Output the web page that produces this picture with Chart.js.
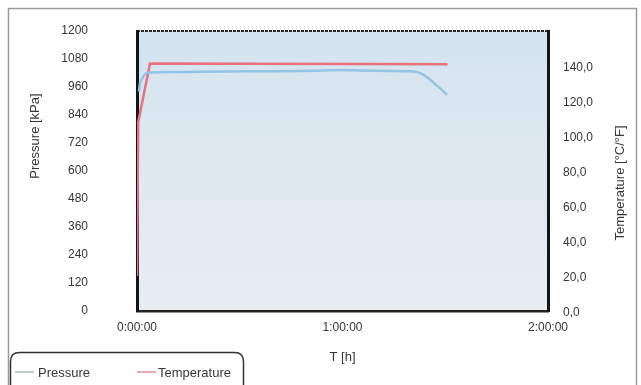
<!DOCTYPE html>
<html><head><meta charset="utf-8">
<script src="https://cdn.jsdelivr.net/npm/chart.js@4"></script>
<style>html,body{margin:0;padding:0;background:#fff}canvas{display:block}</style>
</head><body>
<canvas id="c" width="641" height="385"></canvas>
<script>
// ---- data (time in seconds) ----
const pressureTime = [35, 53, 110, 170, 228, 600, 1104, 1980, 2856, 3300, 3556, 3907, 4433, 4783, 4958, 5098, 5221, 5326, 5431];
const pressureKPa  = [940, 977, 1005, 1020, 1022, 1024, 1025, 1027, 1029, 1031, 1033, 1031, 1029, 1027, 1020, 999, 973, 951, 926];
const tempTime     = [0, 22, 228, 2000, 4000, 5440];
const temperatureC = [20, 108, 141.4, 141.3, 141.1, 141];
const xTickValues  = [0, 3600, 7200];
const pressureTicks = [0, 120, 240, 360, 480, 600, 720, 840, 960, 1080, 1200];
const tempTicks     = [0, 20, 40, 60, 80, 100, 120, 140];
const seriesNames = ['Pressure', 'Temperature'];
const axisTitles = {x: 'T [h]', y: 'Pressure [kPa]', y1: 'Temperature [°C/°F]'};

const FONT = "'Liberation Sans', Arial, sans-serif";
const TXT = '#363636';

function fmtTime(v) {
  const h = Math.floor(v / 3600), m = Math.floor((v % 3600) / 60), s = Math.floor(v % 60);
  return h + ':' + String(m).padStart(2, '0') + ':' + String(s).padStart(2, '0');
}

const bgPlugin = {
  id: 'bg',
  beforeDraw(chart) {
    const {ctx, chartArea: a} = chart;
    ctx.save();
    ctx.fillStyle = '#ffffff';
    ctx.fillRect(0, 0, chart.width, chart.height);
    ctx.strokeStyle = '#9a9a9a';
    ctx.lineWidth = 1.5;
    ctx.strokeRect(8.5, 8.5, 628, 400);
    const g = ctx.createLinearGradient(0, a.top, 0, a.bottom);
    g.addColorStop(0, '#d3e4ee');
    g.addColorStop(0.5, '#dfe9f1');
    g.addColorStop(1, '#e7edf3');
    ctx.fillStyle = g;
    ctx.fillRect(a.left, a.top, a.right - a.left, a.bottom - a.top);
    ctx.strokeStyle = '#2a2a2a';
    ctx.lineWidth = 2;
    ctx.setLineDash([3, 1]);
    ctx.beginPath();
    ctx.moveTo(a.left, a.top);
    ctx.lineTo(a.right, a.top);
    ctx.stroke();
    ctx.restore();
  }
};

const extrasPlugin = {
  id: 'extras',
  afterDraw(chart) {
    const {ctx} = chart;
    ctx.save();
    ctx.fillStyle = TXT;
    ctx.font = '13px ' + FONT;
    ctx.textAlign = 'center';
    ctx.textBaseline = 'middle';
    ctx.save();
    ctx.translate(35, 136);
    ctx.rotate(-Math.PI / 2);
    ctx.fillText(axisTitles.y, 0, 0);
    ctx.restore();
    ctx.save();
    ctx.translate(620, 183);
    ctx.rotate(-Math.PI / 2);
    ctx.fillText(axisTitles.y1, 0, 0);
    ctx.restore();

    const bx = 10.5, by = 352.5, bw = 233, bh = 45, r = 9;
    ctx.fillStyle = '#ffffff';
    ctx.strokeStyle = '#333';
    ctx.lineWidth = 1.5;
    ctx.beginPath();
    ctx.moveTo(bx + r, by);
    ctx.lineTo(bx + bw - r, by);
    ctx.quadraticCurveTo(bx + bw, by, bx + bw, by + r);
    ctx.lineTo(bx + bw, by + bh - r);
    ctx.quadraticCurveTo(bx + bw, by + bh, bx + bw - r, by + bh);
    ctx.lineTo(bx + r, by + bh);
    ctx.quadraticCurveTo(bx, by + bh, bx, by + bh - r);
    ctx.lineTo(bx, by + r);
    ctx.quadraticCurveTo(bx, by, bx + r, by);
    ctx.closePath();
    ctx.fill();
    ctx.stroke();
    const items = [{x: 15, tx: 38}, {x: 137, tx: 158}];
    const legendColors = ['#a9bcb4', '#e88a96'];
    chart.data.datasets.forEach((ds, i) => {
      const it = items[i];
      ctx.strokeStyle = legendColors[i];
      ctx.lineWidth = 1.5;
      ctx.beginPath();
      ctx.moveTo(it.x, 372);
      ctx.lineTo(it.x + 19, 372);
      ctx.stroke();
      ctx.fillStyle = TXT;
      ctx.font = '13px ' + FONT;
      ctx.textAlign = 'left';
      ctx.textBaseline = 'middle';
      ctx.fillText(ds.label, it.tx, 373);
    });
    ctx.restore();
  }
};

function fixVertical(width) {
  return s => { s.width = width; s.paddingTop = 0; s.paddingBottom = 0; };
}

new Chart(document.getElementById('c'), {
  type: 'line',
  data: {
    datasets: [
      {
        label: seriesNames[0],
        data: pressureTime.map((t, i) => ({x: t, y: pressureKPa[i]})),
        yAxisID: 'y',
        borderColor: '#95c3e6',
        borderWidth: 2.5,
        pointRadius: 0,
        tension: 0.2,
        fill: false
      },
      {
        label: seriesNames[1],
        data: tempTime.map((t, i) => ({x: t, y: temperatureC[i]})),
        yAxisID: 'y1',
        borderColor: '#e8707f',
        borderWidth: 2.5,
        pointRadius: 0,
        tension: 0,
        fill: false
      }
    ]
  },
  options: {
    responsive: false,
    animation: false,
    events: [],
    layout: {padding: {top: 31, left: 8, right: 5, bottom: 20}},
    plugins: {legend: {display: false}, tooltip: {enabled: false}},
    scales: {
      x: {
        type: 'linear', min: 0, max: 7200,
        afterBuildTicks: s => { s.ticks = xTickValues.map(v => ({value: v})); },
        afterFit: s => { s.height = 54; s.paddingLeft = 0; s.paddingRight = 0; },
        ticks: {callback: v => fmtTime(v), padding: 9, maxRotation: 0, autoSkip: false, color: TXT, font: {family: FONT, size: 12}},
        grid: {color: 'transparent', drawTicks: false},
        border: {display: true, color: '#222', width: 2.5, dash: [3, 1]},
        title: {display: true, text: axisTitles.x, color: TXT, font: {family: FONT, size: 13}, padding: {top: 0, bottom: 0}}
      },
      y: {
        type: 'linear', position: 'left', min: 0, max: 1200,
        afterBuildTicks: s => { s.ticks = pressureTicks.map(v => ({value: v})); },
        afterFit: fixVertical(129),
        ticks: {padding: 49, color: TXT, font: {family: FONT, size: 12}, callback: v => String(v)},
        grid: {color: 'transparent', drawTicks: false},
        border: {display: true, color: '#151515', width: 3}
      },
      y1: {
        type: 'linear', position: 'right', min: 0, max: 160,
        afterBuildTicks: s => { s.ticks = tempTicks.map(v => ({value: v})); },
        afterFit: fixVertical(88),
        ticks: {padding: 15, labelOffset: 2, color: TXT, font: {family: FONT, size: 12},
                callback: v => v.toFixed(1).replace('.', ',')},
        grid: {color: 'transparent', drawTicks: false},
        border: {display: true, color: '#151515', width: 3}
      }
    }
  },
  plugins: [bgPlugin, extrasPlugin]
});
</script>
</body></html>
